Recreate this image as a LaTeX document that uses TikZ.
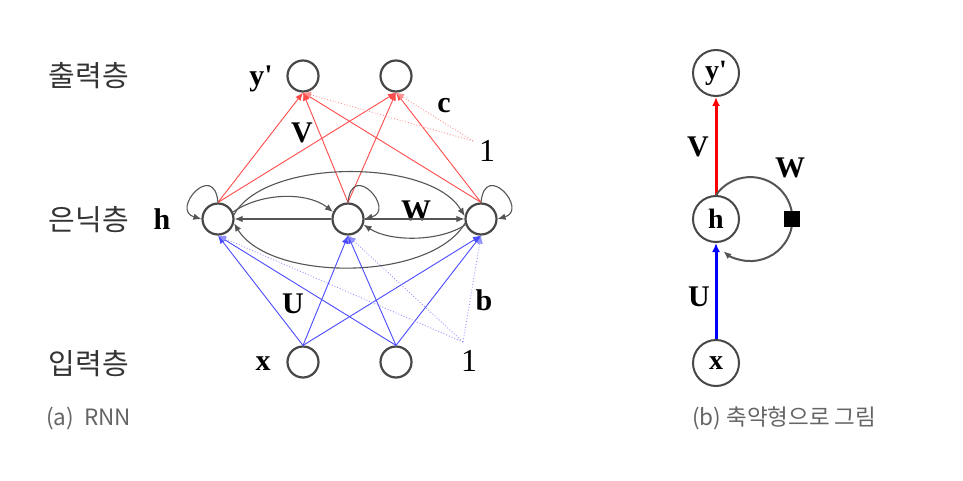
\documentclass[tikz,border=0pt]{standalone}
\usepackage{fontspec}
\setmainfont{Liberation Serif}
\newfontfamily\kr{Noto Sans CJK KR}
\usetikzlibrary{arrows.meta}
\definecolor{lred}{HTML}{FF4A4A}
\definecolor{lblue}{HTML}{4A4AFF}
\definecolor{rec}{HTML}{555555}
\definecolor{capgray}{HTML}{656565}
\begin{document}
\begin{tikzpicture}[x=1pt,y=-1pt,
  neuron/.style={circle,draw=black!72,line width=2.2pt,minimum size=31pt,inner sep=0pt},
  bigneuron/.style={circle,draw=black!72,line width=2pt,minimum size=46pt,inner sep=0pt,font=\fontsize{28}{30}\selectfont\bfseries},
  lab/.style={font=\fontsize{30}{32}\selectfont\bfseries,inner sep=0pt},
  one/.style={font=\fontsize{32}{34}\selectfont,inner sep=0pt},
  layer/.style={font=\kr\fontsize{29}{32}\selectfont,text=black!80,inner sep=0pt},
  captext/.style={font=\kr\fontsize{22.5}{26}\selectfont,text=capgray,inner sep=0pt},
  tip/.style={-{Latex[length=8pt,width=6.5pt]}},
  redarr/.style={tip,lred,line width=0.9pt},
  bluearr/.style={tip,lblue,line width=0.9pt},
  redbias/.style={tip,lred!60,line width=0.9pt,dotted},
  bluebias/.style={tip,lblue!60,line width=0.9pt,dotted},
  recarr/.style={tip,rec,line width=1.1pt},
]
\useasboundingbox (0,0) rectangle (963,481);

% layer labels
\node[layer] (lo) at (89,76) {출력층};
\node[layer] (lh) at (89,220) {은닉층};
\node[layer] (li) at (89,364) {입력층};

% left network nodes
\node[neuron] (y1) at (303,76) {};
\node[neuron] (y2) at (396,76) {};
\node[neuron] (h1) at (218,219) {};
\node[neuron] (h2) at (348,219) {};
\node[neuron] (h3) at (481,219) {};
\node[neuron] (x1) at (303,362) {};
\node[neuron] (x2) at (396,362) {};
\coordinate (cb) at (473,141);
\coordinate (bb) at (463,342);

% labels
\node[lab] (ly) at (261,79) {y\textquotesingle};
\node[lab] (lhh) at (162,219) {h};
\node[lab] (lx) at (263,364) {x};
\node[lab] (lV) at (302,133) {V};
\node[lab] (lc) at (444,106) {c};
\node[one] (o1) at (487,151) {1};
\node[lab] (lW) at (416,211) {W};
\node[lab] (lU) at (293,304) {U};
\node[lab] (lb) at (484,300) {b};
\node[one] (o2) at (469,361) {1};

% output connections
\foreach \h in {h1,h2,h3}{
  \draw[redarr] (\h.north) -- (y1.south);
  \draw[redarr] (\h.north) -- (y2.south);
}
\draw[redbias] (cb) -- (y1.south);
\draw[redbias] (cb) -- (y2.south);

% input connections
\foreach \x in {x1,x2}{
  \draw[bluearr] (\x.north) -- (h1.south);
  \draw[bluearr] (\x.north) -- (h2.south);
  \draw[bluearr] (\x.north) -- (h3.south);
}
\draw[bluebias] (bb) -- (h1.south);
\draw[bluebias] (bb) -- (h2.south);
\draw[bluebias] (bb) -- (h3.south);

% recurrent connections
\draw[recarr] (h1.north) .. controls (214,160) and (170,210) .. (h1.west);
\draw[recarr] (h2.north) .. controls (352,160) and (396,210) .. (h2.east);
\draw[recarr] (h3.north) .. controls (485,160) and (529,210) .. (h3.east);
\draw[recarr] (h2.west) -- (h1.east);
\draw[recarr] (h1.25) .. controls (262,192) and (308,192) .. (h2.155);
\draw[recarr] (h2.east) -- (h3.west);
\draw[recarr] (h3.200) .. controls (440,242) and (390,242) .. (h2.340);
\draw[recarr] (h1.15) .. controls (265,158) and (430,158) .. (h3.170);
\draw[recarr] (h3.195) .. controls (430,282) and (270,282) .. (h1.345);

% right diagram
\node[bigneuron] (Y) at (716,73) {y\textquotesingle};
\node[bigneuron] (H) at (716,219) {h};
\node[bigneuron] (X) at (716,363) {x};
\draw[red,line width=3pt,-{Latex[length=9pt,width=8pt]}] (H.north) -- (Y.south);
\draw[blue,line width=3pt,-{Latex[length=9pt,width=8pt]}] (X.north) -- (H.south);
\draw[recarr,line width=2pt] (H.north) arc[start angle=-145,end angle=130,radius=42];
\node[fill=black,minimum size=16pt,inner sep=0pt] (sq) at (792,219) {};
\node[lab] (rV) at (698,147) {V};
\node[lab] (rW) at (790,168) {W};
\node[lab] (rU) at (699,297) {U};

% captions
\node[captext,anchor=west] (ca) at (46,418) {(a)\ \ RNN};
\node[captext,anchor=west] (cb2) at (692,418) {(b)\ 축약형으로 그림};
\end{tikzpicture}
\end{document}
